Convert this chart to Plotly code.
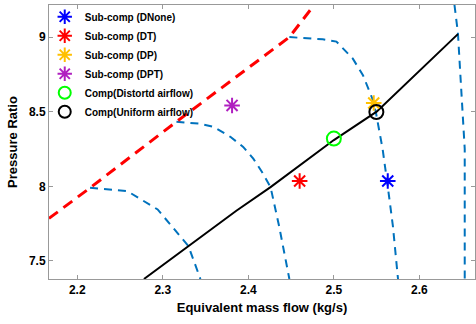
import plotly.graph_objects as go

# Surge line (red dashed)
surge_x = [2.167, 2.215, 2.316, 2.448, 2.477]
surge_y = [7.785, 7.99, 8.433, 9.0, 9.215]

# Speed lines (blue dashed)
sp1_x = [2.215, 2.2585, 2.294, 2.320, 2.330, 2.344]
sp1_y = [7.99, 7.968, 7.845, 7.666, 7.6, 7.379]
sp2_x = [2.316, 2.344, 2.359, 2.379, 2.394, 2.406, 2.416, 2.426, 2.436, 2.448]
sp2_y = [8.433, 8.419, 8.399, 8.332, 8.264, 8.184, 8.096, 7.995, 7.733, 7.379]
sp3_x = [2.448, 2.487, 2.503, 2.522, 2.534, 2.545, 2.549, 2.557, 2.563, 2.569, 2.575]
sp3_y = [9.0, 8.985, 8.97, 8.857, 8.745, 8.587, 8.5, 8.25, 8.0, 7.735, 7.379]
sp4_x = [2.641, 2.645, 2.653, 2.653]
sp4_y = [9.215, 9.03, 8.25, 7.379]

# Operating line (black)
op_x = [2.278, 2.330, 2.386, 2.426, 2.471, 2.5, 2.55, 2.59, 2.645]
op_y = [7.379, 7.6, 7.836, 7.995, 8.184, 8.31, 8.5, 8.72, 9.02]

# Points
dnone = (2.563, 8.036)
dt = (2.460, 8.036)
dp = (2.5466, 8.558)
dpt = (2.381, 8.542)
comp_dist = (2.5, 8.32)
comp_uni = (2.5497, 8.498)

fig = go.Figure()
blue = "#0072BD"
for sx, sy in [(sp1_x, sp1_y), (sp2_x, sp2_y), (sp3_x, sp3_y), (sp4_x, sp4_y)]:
    fig.add_trace(go.Scatter(x=sx, y=sy, mode="lines", showlegend=False,
                             line=dict(color=blue, width=2, dash="8px,6px")))
fig.add_trace(go.Scatter(x=surge_x, y=surge_y, mode="lines", showlegend=False,
                         line=dict(color="#FF0000", width=3, dash="11px,7px")))
fig.add_trace(go.Scatter(x=op_x, y=op_y, mode="lines", showlegend=False,
                         line=dict(color="black", width=2)))

def star(pt, name, color):
    fig.add_trace(go.Scatter(x=[pt[0]], y=[pt[1]], mode="markers", name=name,
                             marker=dict(symbol="asterisk-open", size=13, color=color,
                                         line=dict(color=color, width=2))))

def circ(pt, name, color):
    fig.add_trace(go.Scatter(x=[pt[0]], y=[pt[1]], mode="markers", name=name,
                             marker=dict(symbol="circle-open", size=14, color=color,
                                         line=dict(color=color, width=2))))

star(dnone, "Sub-comp (DNone)", "#0000FF")
star(dt, "Sub-comp (DT)", "#FF0000")
star(dp, "Sub-comp (DP)", "#FFC000")
star(dpt, "Sub-comp (DPT)", "#B020C0")
circ(comp_dist, "Comp(Distortd airflow)", "#00FF00")
circ(comp_uni, "Comp(Uniform airflow)", "#000000")

axis_common = dict(showgrid=False, zeroline=False, showline=True, linecolor="#999999",
                   linewidth=1, mirror="ticks", ticks="inside", ticklen=4,
                   tickcolor="#999999",
                   tickfont=dict(family="Liberation Sans", size=12, color="black", weight="bold"))

fig.update_layout(
    width=476, height=324,
    margin=dict(l=49, r=1, t=5, b=45),
    plot_bgcolor="white", paper_bgcolor="white",
    xaxis=dict(range=[2.167, 2.665], tickvals=[2.2, 2.3, 2.4, 2.5, 2.6],
               ticktext=["2.2", "2.3", "2.4", "2.5", "2.6"],
               title=dict(text="Equivalent mass flow (kg/s)", standoff=6,
                          font=dict(family="Liberation Sans", size=13, color="black", weight="bold")),
               **axis_common),
    yaxis=dict(range=[7.379, 9.215], tickvals=[7.5, 8, 8.5, 9],
               ticktext=["7.5", "8", "8.5", "9"],
               title=dict(text="Pressure Ratio", standoff=8,
                          font=dict(family="Liberation Sans", size=13, color="black", weight="bold")),
               **axis_common),
    legend=dict(x=-0.01, y=1.01, xanchor="left", yanchor="top", bgcolor="rgba(0,0,0,0)",
                tracegroupgap=0, itemsizing="constant",
                font=dict(family="Liberation Sans", size=10, color="black", weight="bold")),
    showlegend=True,
)

fig.write_html("out.html")
